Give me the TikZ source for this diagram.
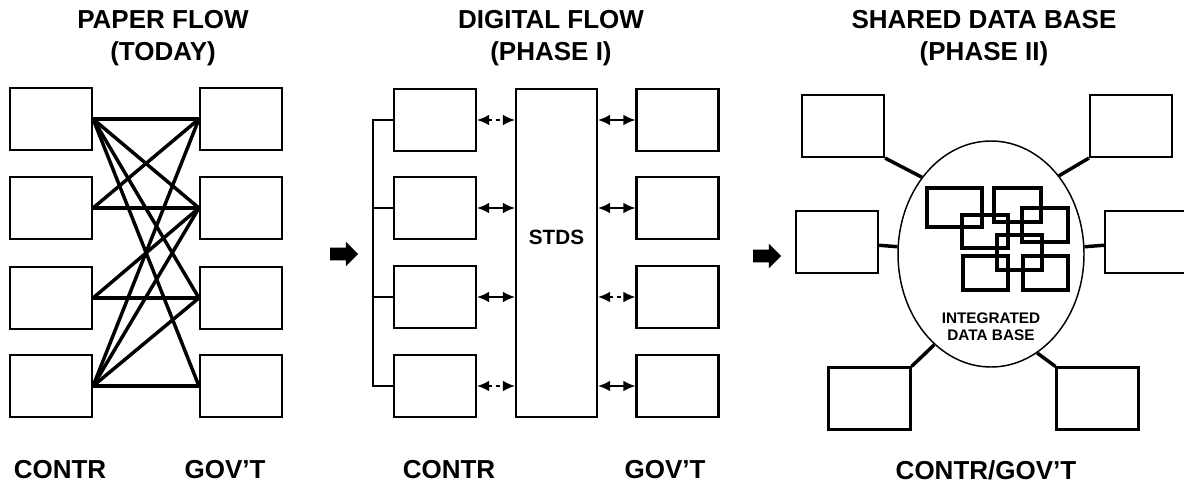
\documentclass[tikz,border=0pt]{standalone}
\usepackage{fontspec}
\setmainfont{Liberation Sans}
\usepackage{tikz}
\usetikzlibrary{arrows.meta}
\usetikzlibrary{shapes.geometric, shapes.arrows}

\begin{document}
\begin{tikzpicture}[x=0.75pt, y=-0.75pt, inner sep=0pt]
            \useasboundingbox (0,0) rectangle (1184,493);

            \tikzstyle{myBox}=[draw, line width=1.6pt, minimum width=61.5pt, minimum height=46.5pt];
            \tikzstyle{myTitle}=[font=\bfseries\fontsize{19.5}{24}\selectfont, align=center];
            \tikzstyle{myLabel}=[font=\bfseries\fontsize{19.5}{22}\selectfont];
            \tikzstyle{myLink}=[line width=2.6pt];
            \tikzstyle{myArr}=[{Latex[length=9pt,width=8pt]}-{Latex[length=9pt,width=8pt]}, line width=1.2pt];
            \tikzstyle{myGo}=[single arrow, fill, inner sep=4.5pt, minimum height=21pt, single arrow head extend=4.5pt];

            % paper flow
            \node[myTitle] (t1) at (163,38) {PAPER FLOW\\(TODAY)};
            \node[myBox] (pc1) at (51,119) {};
            \node[myBox] (pc2) at (51,208) {};
            \node[myBox] (pc3) at (51,298) {};
            \node[myBox] (pc4) at (51,386) {};
            \node[myBox] (pg1) at (241,119) {};
            \node[myBox] (pg2) at (241,208) {};
            \node[myBox] (pg3) at (241,298) {};
            \node[myBox] (pg4) at (241,386) {};
            \foreach \a/\b in {1/1,1/2,1/3,1/4,2/1,2/2,3/2,3/3,4/1,4/2,4/3,4/4}
                \draw[myLink] (pc\a.east) -- (pg\b.west);
            \node[myLabel] (l1) at (60,470) {CONTR};
            \node[myLabel] (l2) at (225,470) {GOV'T};

            \node[myGo] (go1) at (341,254) {};

            % digital flow
            \node[myTitle] (t2) at (551,38) {DIGITAL FLOW\\(PHASE I)};
            \node[myBox] (dc1) at (435,120) {};
            \node[myBox] (dc2) at (435,208) {};
            \node[myBox] (dc3) at (435,297) {};
            \node[myBox] (dc4) at (435,386) {};
            \node[myBox, minimum width=60.75pt, minimum height=246pt] (stds) at (556.5,253) {};
            \node[myLabel, font=\bfseries\fontsize{15.5}{18}\selectfont] (stdsL) at (556.5,237) {STDS};
            \node[myBox] (dg1) at (677.5,120) {};
            \node[myBox] (dg2) at (677.5,208) {};
            \node[myBox] (dg3) at (677.5,297) {};
            \node[myBox] (dg4) at (677.5,386) {};
            \draw[line width=1.6pt] (dc1.west) -- ++(-20,0) |- (dc4.west);
            \draw[line width=1.6pt] (dc2.west) -- ++(-20,0);
            \draw[line width=1.6pt] (dc3.west) -- ++(-20,0);
            \draw[myArr, dashed] (dc1.east) -- (dc1.east -| stds.west);
            \draw[myArr] (dc2.east) -- (dc2.east -| stds.west);
            \draw[myArr] (dc3.east) -- (dc3.east -| stds.west);
            \draw[myArr, dashed] (dc4.east) -- (dc4.east -| stds.west);
            \draw[myArr] (dg1.west -| stds.east) -- (dg1.west);
            \draw[myArr] (dg2.west -| stds.east) -- (dg2.west);
            \draw[myArr, dashed] (dg3.west -| stds.east) -- (dg3.west);
            \draw[myArr] (dg4.west -| stds.east) -- (dg4.west);
            \node[myLabel] (l3) at (449,470) {CONTR};
            \node[myLabel] (l4) at (665,470) {GOV'T};

            \node[myGo] (go2) at (764,256) {};

            % shared data base
            \node[myTitle] (t3) at (984,38) {SHARED DATA BASE\\(PHASE II)};
            \node[ellipse, draw, line width=1.1pt, minimum width=139.5pt, minimum height=169.5pt] (idb) at (991,254) {};
            \foreach \x/\y/\u/\v in {927/188/982/227, 994/188/1041/222, 962/215/1008/248, 1022/208/1068/242, 997/235/1042/270, 963/256/1008/290, 1023/256/1068/290}
                \draw[line width=2.4pt] (\x,\y) rectangle (\u,\v);
            \node[font=\bfseries\fontsize{11.5}{12.5}\selectfont, align=center] (idbL) at (991,327) {INTEGRATED\\DATA BASE};
            \node[myBox] (s1) at (843,126) {};
            \node[myBox] (s2) at (1131,126) {};
            \node[myBox] (s3) at (837,242) {};
            \node[myBox] (s4) at (1146,242) {};
            \node[myBox] (s5) at (869.5,398.5) {};
            \node[myBox] (s6) at (1097.5,398.5) {};
            \draw[myLink] (s1.south east) -- (idb.132);
            \draw[myLink] (s2.south west) -- (idb.49);
            \draw[myLink] (s3) -- (idb);
            \draw[myLink] (idb) -- (s4);
            \draw[myLink] (s5.north east) -- (idb.238);
            \draw[myLink] (s6.north west) -- (idb.295);
            \node[myLabel] (l5) at (986,470) {CONTR/GOV'T};
         \end{tikzpicture}
\end{document}
